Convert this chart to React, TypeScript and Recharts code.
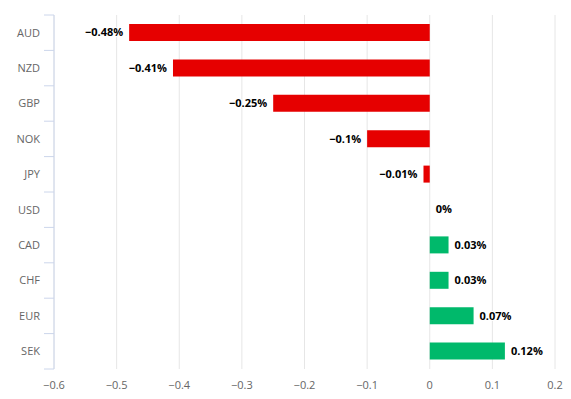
import React from "react";
import {
  BarChart,
  Bar,
  XAxis,
  YAxis,
  CartesianGrid,
  Cell
} from "recharts";

const currencies = ["AUD", "NZD", "GBP", "NOK", "JPY", "USD", "CAD", "CHF", "EUR", "SEK"];
const changes = [-0.48, -0.41, -0.25, -0.1, -0.01, 0, 0.03, 0.03, 0.07, 0.12];
const xTicks = [-0.6, -0.5, -0.4, -0.3, -0.2, -0.1, 0, 0.1, 0.2];

const data = currencies.map((c, i) => ({ name: c, value: changes[i] }));

const W = 571;
const H = 399;
const TOP = 15;
const BOTTOM = 30;
const BAND = (H - TOP - BOTTOM) / currencies.length;
const FONT = "'Open Sans', sans-serif";

const fmt = (v: number) => (v < 0 ? "\u2212" + Math.abs(v) : String(v));

const YTick = (props: any) => {
  const { x, y, payload, index } = props;
  const top = y - BAND / 2;
  return (
    <g>
      <line x1={x + 4} x2={x + 14} y1={top} y2={top} stroke="#ccd6eb" />
      {index === currencies.length - 1 && (
        <line x1={x + 4} x2={x + 14} y1={top + BAND} y2={top + BAND} stroke="#ccd6eb" />
      )}
      <text x={x} y={y} dy="0.35em" textAnchor="end" fill="#666666" fontSize={11} fontFamily={FONT}>
        {payload.value}
      </text>
    </g>
  );
};

const BarLabel = (props: any) => {
  const { x, y, width, height, value } = props;
  const left = Math.min(x, x + width);
  const right = Math.max(x, x + width);
  const neg = value < 0;
  return (
    <text
      x={neg ? left - 6 : right + 6}
      y={y + height / 2}
      dy="0.35em"
      textAnchor={neg ? "end" : "start"}
      fontSize={11}
      fontWeight="bold"
      fontFamily={FONT}
      fill="#000000"
      stroke="#ffffff"
      strokeWidth={2}
      paintOrder="stroke"
    >
      {fmt(value) + "%"}
    </text>
  );
};

export default function App() {
  return (
    <div style={{ margin: -8, background: "#fff" }}>
      <BarChart
        width={W}
        height={H}
        data={data}
        layout="vertical"
        margin={{ top: TOP, right: 16, bottom: 0, left: 0 }}
      >
        <CartesianGrid horizontal={false} stroke="#e6e6e6" />
        <XAxis
          type="number"
          domain={[-0.6, 0.2]}
          ticks={xTicks}
          interval={0}
          height={BOTTOM}
          axisLine={false}
          tickLine={false}
          tickMargin={6}
          tickFormatter={fmt}
          tick={{ fill: "#666666", fontSize: 11, fontFamily: FONT }}
        />
        <YAxis
          type="category"
          dataKey="name"
          width={54}
          axisLine={{ stroke: "#ccd6eb" }}
          tickLine={false}
          tickSize={10}
          tickMargin={4}
          interval={0}
          tick={<YTick />}
        />
        <Bar
          dataKey="value"
          barSize={17}
          minPointSize={(v: number) => (v === 0 ? 0.01 : 0)}
          label={<BarLabel />}
          isAnimationActive={false}
        >
          {data.map((d) => (
            <Cell key={d.name} fill={d.value < 0 ? "#e60000" : "#00b96b"} />
          ))}
        </Bar>
      </BarChart>
    </div>
  );
}
